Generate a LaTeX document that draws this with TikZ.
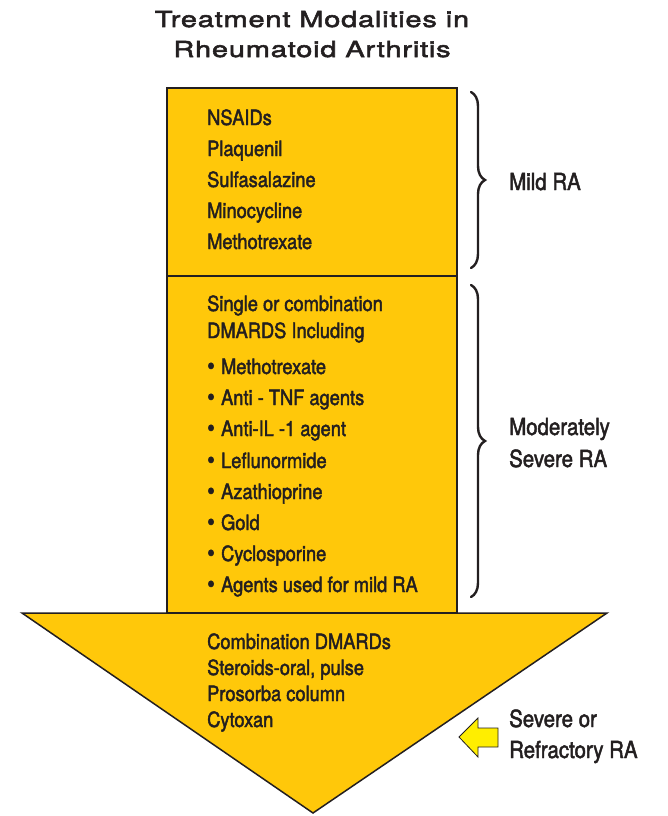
\documentclass[tikz,border=0pt]{standalone}
\usepackage{fontspec}
\setmainfont{TeX Gyre Heros}
\newfontfamily\raTitleFont[FakeStretch=1.32,LetterSpace=3.5,FakeBold=2.5]{TeX Gyre Heros}
\newfontfamily\raCondFont[FakeStretch=0.87,FakeBold=2]{TeX Gyre Heros}
\usetikzlibrary{decorations.pathreplacing}
\definecolor{raGold}{RGB}{255,200,10}
\definecolor{raYellow}{RGB}{255,238,0}
\definecolor{raInk}{RGB}{35,31,32}
\newcommand{\raBullet}[1]{{\fontsize{25}{20}\selectfont\raisebox{-0.5pt}{\textbullet}}\hspace{0.3em}#1}

\begin{document}
\begin{tikzpicture}[x=1pt,y=-1pt,
  panel/.style={draw=raInk, line width=1.5pt, fill=raGold},
  rabrace/.style={draw=raInk, line width=2.4pt, line cap=round, decorate, decoration={brace, amplitude=14pt}},
  txt/.style={anchor=base west, inner sep=0pt, text=raInk, font=\raCondFont\fontsize{21}{21}\selectfont},
  lbl/.style={txt, font=\raCondFont\fontsize{23.5}{23.5}\selectfont},
  ttl/.style={anchor=base, inner sep=0pt, text=raInk, font=\raTitleFont\fontsize{22}{22}\selectfont}]
\useasboundingbox (0,0) rectangle (667,816);
% title
\node[ttl] (title1) at (312,27) {Treatment Modalities in};
\node[ttl] (title2) at (312,57) {Rheumatoid Arthritis};
% arrow body
\node[panel, minimum width=290pt, minimum height=188pt, inner sep=0pt] (mild) at (312,182) {};
\node[panel, minimum width=290pt, minimum height=337pt, inner sep=0pt] (moderate) at (312,444.5) {};
\filldraw[panel] (22,613) coordinate (headL) -- (607,613) coordinate (headR) -- (313,813) coordinate (tip) -- cycle;
% mild RA
\node[txt] (m1) at (207,125) {NSAIDs};
\node[txt] (m2) at (207,156) {Plaquenil};
\node[txt] (m3) at (207,187) {Sulfasalazine};
\node[txt] (m4) at (207,218) {Minocycline};
\node[txt] (m5) at (207,249) {Methotrexate};
% moderately severe RA
\node[txt] (d1) at (207,311) {Single or combination};
\node[txt] (d2) at (207,338) {DMARDS Including};
\node[txt] (b1) at (207,374) {\raBullet{Methotrexate}};
\node[txt] (b2) at (207,405) {\raBullet{Anti - TNF agents}};
\node[txt] (b3) at (207,436) {\raBullet{Anti-IL -1 agent}};
\node[txt] (b4) at (207,468) {\raBullet{Leflunormide}};
\node[txt] (b5) at (207,499) {\raBullet{Azathioprine}};
\node[txt] (b6) at (207,530) {\raBullet{Gold}};
\node[txt] (b7) at (207,561) {\raBullet{Cyclosporine}};
\node[txt] (b8) at (207,592) {\raBullet{Agents used for mild RA}};
% severe RA
\node[txt] (s1) at (207,649) {Combination DMARDs};
\node[txt] (s2) at (207,675) {Steroids-oral, pulse};
\node[txt] (s3) at (207,701) {Prosorba column};
\node[txt] (s4) at (207,727) {Cytoxan};
% braces and labels
\draw[rabrace] (471,92) -- (471,268);
\draw[rabrace] (471,285) -- (471,597);
\node[lbl] (mildlbl) at (509,190) {Mild RA};
\node[lbl] (modlbl1) at (509,435) {Moderately};
\node[lbl] (modlbl2) at (509,467) {Severe RA};
\node[lbl] (sevlbl1) at (509,727) {Severe or};
\node[lbl] (sevlbl2) at (509,758) {Refractory RA};
% small pointer
\filldraw[draw=raInk, line width=0.8pt, fill=raYellow] (459,737) -- (478,718) -- (478,728) -- (498,728) -- (498,747) -- (478,747) -- (478,757) -- cycle;
\end{tikzpicture}
\end{document}
